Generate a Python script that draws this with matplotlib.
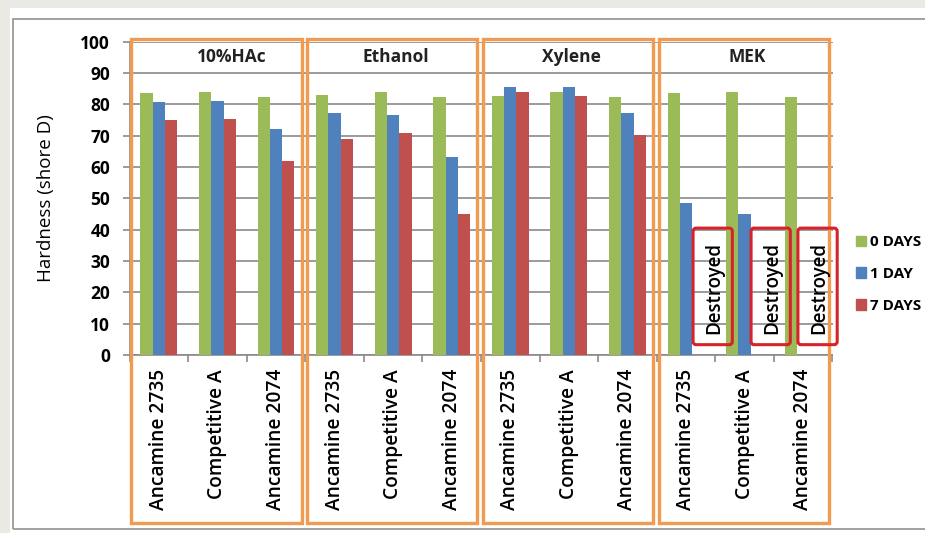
import matplotlib
matplotlib.use("Agg")
import matplotlib.pyplot as plt
import matplotlib.patches as mpatches
from matplotlib.transforms import blended_transform_factory
import numpy as np

plt.rcParams['font.family'] = ['Open Sans', 'DejaVu Sans']

# data
solvents = ['10%HAc', 'Ethanol', 'Xylene', 'MEK']
products = ['Ancamine 2735', 'Competitive A', 'Ancamine 2074']
series = ['0 DAYS', '1 DAY', '7 DAYS']

day0 = [83.5, 84.0, 82.4,  82.9, 84.0, 82.2,  82.8, 84.0, 82.4,  83.7, 84.0, 82.4]
day1 = [80.6, 81.2, 72.0,  77.1, 76.6, 63.3,  85.4, 85.4, 77.1,  48.4, 44.9, 0.0]
day7 = [75.0, 75.4, 62.0,  68.8, 70.8, 44.9,  83.8, 82.8, 70.2,  0.0, 0.0, 0.0]
destroyed_idx = [9, 10, 11]   # bars that were destroyed (MEK)

colors = ['#9BBB59', '#4F81BD', '#C0504D']
orange = '#F19A50'
grey = '#8A8A8A'

W, H = 925, 533
fig = plt.figure(figsize=(W / 100, H / 100), dpi=100, facecolor='#EBE9E3')

# white chart sheet with thin grey border
fig.patches.append(mpatches.Rectangle((10 / W, 0), 1, 1 - 8 / H, transform=fig.transFigure,
                                      facecolor='white', edgecolor='none', zorder=-10))
fig.patches.append(mpatches.Rectangle((13 / W, 1 - 529 / H), 1, (529 - 19) / H,
                                      transform=fig.transFigure, facecolor='none',
                                      edgecolor='#9A9A9A', lw=1.3, zorder=-9))

ax = fig.add_axes([129.5 / W, 1 - 355 / H, 703 / W, (355 - 41.7) / H])
ax.set_facecolor('none')

labels = products * len(solvents)
x = np.arange(len(labels))
bw = 0.21
for k, (vals, c, name) in enumerate(zip([day0, day1, day7], colors, series)):
    ax.bar(x + (k - 1) * bw, vals, width=bw, color=c, label=name, zorder=3)

ax.set_ylim(0, 100)
ax.set_xlim(-0.5, len(labels) - 0.5)
ax.set_yticks(np.arange(0, 101, 10))
ax.yaxis.grid(True, color=grey, lw=1.2, zorder=0)
ax.set_axisbelow(True)

ax.set_xticks(x)
ax.set_xticklabels(labels, rotation=90, fontsize=13.8)
ax.set_xticks(np.arange(-0.5, len(labels), 1), minor=True)
ax.tick_params(axis='x', which='major', length=0, pad=10)
ax.tick_params(axis='x', which='minor', length=5, color=grey, width=1.2, direction='out')
ax.tick_params(axis='y', length=5, color=grey, width=1.2, pad=9)
for t in ax.get_yticklabels():
    t.set_fontweight('bold')
    t.set_fontsize(12.5)
for t in ax.get_xticklabels():
    t.set_fontweight('semibold')

for s in ['top', 'right']:
    ax.spines[s].set_visible(False)
for s in ['left', 'bottom']:
    ax.spines[s].set_color(grey)
    ax.spines[s].set_linewidth(1.2)

ax.set_ylabel('Hardness (shore D)', fontsize=13.5, labelpad=18)

# orange group frames and solvent titles
tr = blended_transform_factory(ax.transData, fig.transFigure)
n = len(products)
for g, name in enumerate(solvents):
    left = g * n - 0.47
    right = g * n + 2.44
    ax.add_patch(mpatches.Rectangle((left, 1 - 523 / H), right - left, (523 - 39) / H,
                                    transform=tr, facecolor='none', edgecolor=orange,
                                    lw=2.4, clip_on=False, zorder=5))
    ax.text(g * n + 1 + (0.25 if g == 0 else 0.05), 95, name, ha='center', va='center',
            fontsize=12.5, fontweight='bold', color='#222222', zorder=6)

# "Destroyed" boxes in the MEK group
box_shift = [0.12, 0.11, -0.09]
for idx, sh in zip(destroyed_idx, box_shift):
    bx = idx + sh
    ax.add_patch(mpatches.FancyBboxPatch((bx, 3.3), 0.67, 37.2,
                                         boxstyle='round,pad=0,rounding_size=0.05',
                                         facecolor='none', edgecolor='#D8222A', lw=2.2,
                                         clip_on=False, zorder=6, mutation_aspect=20))
    ax.text(bx + 0.36, 21.5, 'Destroyed', rotation=90, ha='center', va='center',
            fontsize=13.5, fontweight='semibold', color='black', zorder=7)

# legend on the right
handles = [mpatches.Patch(color=c) for c in colors]
leg = fig.legend(handles, series, loc='center left', bbox_to_anchor=(842 / W, 1 - 274 / H),
                 frameon=False, handlelength=0.7, handleheight=0.7, handletextpad=0.25,
                 labelspacing=1.15, prop={'size': 11, 'weight': 'bold'})

fig.savefig('out.png', dpi=100, facecolor=fig.get_facecolor())
